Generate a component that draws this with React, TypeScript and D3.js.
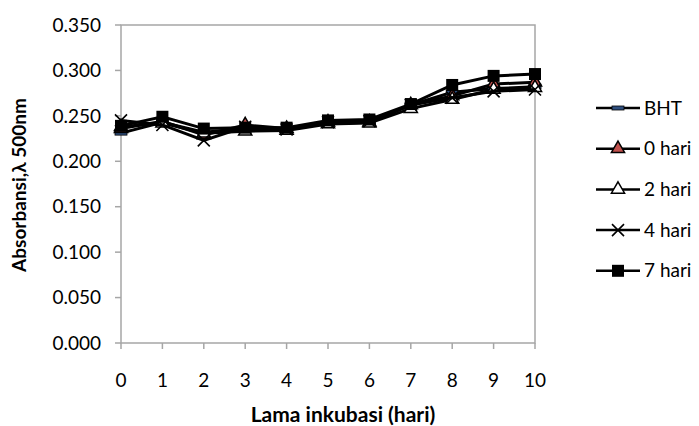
import * as d3 from 'd3';
import React from 'react';

const days = [0, 1, 2, 3, 4, 5, 6, 7, 8, 9, 10];
const bht = [0.231, 0.243, 0.232, 0.236, 0.235, 0.242, 0.243, 0.262, 0.276, 0.280, 0.282];
const hari0 = [0.236, 0.244, 0.229, 0.240, 0.236, 0.243, 0.243, 0.262, 0.272, 0.285, 0.287];
const hari2 = [0.238, 0.242, 0.231, 0.233, 0.234, 0.241, 0.242, 0.258, 0.268, 0.279, 0.281];
const hari4 = [0.245, 0.240, 0.223, 0.238, 0.235, 0.243, 0.244, 0.262, 0.270, 0.277, 0.279];
const hari7 = [0.239, 0.249, 0.236, 0.237, 0.237, 0.245, 0.246, 0.263, 0.284, 0.294, 0.296];
const yTicks = [0, 0.05, 0.1, 0.15, 0.2, 0.25, 0.3, 0.35];

type MarkerKind = 'dash' | 'triFill' | 'triOpen' | 'cross' | 'square';
const series: { name: string, values: number[], marker: MarkerKind }[] = [
    { name: 'BHT', values: bht, marker: 'dash' },
    { name: '0 hari', values: hari0, marker: 'triFill' },
    { name: '2 hari', values: hari2, marker: 'triOpen' },
    { name: '4 hari', values: hari4, marker: 'cross' },
    { name: '7 hari', values: hari7, marker: 'square' },
];

const width = 699;
const height = 426;
const left = 121, right = 535, top = 25, bottom = 343;
const font = 'Lato, "Open Sans", sans-serif';

const Marker = ({ kind, x, y }: { kind: MarkerKind, x: number, y: number }) => {
    switch (kind) {
        case 'dash':
            return <rect x={x - 6} y={y - 2} width={12} height={4} fill="#2f4f7f" stroke="#000" strokeWidth={0.8} />;
        case 'triFill':
        case 'triOpen': {
            const tri = d3.symbol(d3.symbolTriangle, 75)()!;
            return <path d={tri} transform={`translate(${x},${y})`}
                fill={kind === 'triFill' ? '#c0504d' : '#fff'} stroke="#000" strokeWidth={1.5} />;
        }
        case 'cross':
            return <path d={`M${x - 6},${y - 6}L${x + 6},${y + 6}M${x - 6},${y + 6}L${x + 6},${y - 6}`}
                stroke="#000" strokeWidth={1.6} />;
        case 'square':
            return <rect x={x - 6} y={y - 6} width={12} height={12} fill="#000" />;
    }
};

export default function App() {
    const x = d3.scaleLinear([0, 10], [left, right]);
    const y = d3.scaleLinear([0, 0.35], [bottom, top]);
    const line = d3.line<number>().x((_, i) => x(days[i])).y(d => y(d));
    const fmt = d3.format('.3f');

    return <svg width={width} height={height} style={{ position: 'absolute', left: 0, top: 0, background: '#fff' }}
        fontFamily={font}>
        <rect x={left} y={top} width={right - left} height={bottom - top} fill="none" stroke="#a6a6a6" strokeWidth={1.5} />
        {yTicks.map(t => <g key={t}>
            <line x1={left - 6} x2={left} y1={y(t)} y2={y(t)} stroke="#a6a6a6" strokeWidth={1.5} />
            <text x={101} y={y(t)} dy="0.35em" textAnchor="end" fontSize={19} fill="#000">{fmt(t)}</text>
        </g>)}
        {days.map(d => <g key={d}>
            <line x1={x(d)} x2={x(d)} y1={bottom} y2={bottom + 6} stroke="#a6a6a6" strokeWidth={1.5} />
            <text x={x(d)} y={387} textAnchor="middle" fontSize={19} fill="#000">{d}</text>
        </g>)}
        <text x={343} y={422} textAnchor="middle" fontSize={21} fontWeight="bold">Lama inkubasi (hari)</text>
        <text transform="translate(26,185) rotate(-90)" textAnchor="middle" fontSize={19} fontWeight="bold">Absorbansi,λ 500nm</text>
        {series.map(s => <g key={s.name}>
            <path d={line(s.values)!} fill="none" stroke="#000" strokeWidth={3} />
            {s.values.map((v, i) => <Marker key={i} kind={s.marker} x={x(days[i])} y={y(v)} />)}
        </g>)}
        {series.map((s, i) => {
            const ly = 108 + i * 40.7;
            return <g key={s.name}>
                <line x1={596} x2={640} y1={ly} y2={ly} stroke="#000" strokeWidth={2.5} />
                <Marker kind={s.marker} x={618} y={ly} />
                <text x={644} y={ly} dy="0.35em" fontSize={19}>{s.name}</text>
            </g>;
        })}
    </svg>;
}
